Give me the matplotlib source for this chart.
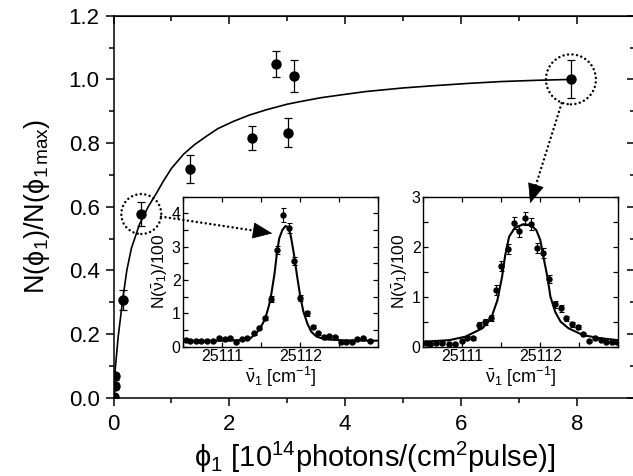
import numpy as np
import matplotlib
matplotlib.use("Agg")
import matplotlib.pyplot as plt
from matplotlib.patches import Ellipse, ConnectionPatch
from matplotlib.ticker import MultipleLocator, FixedLocator, FixedFormatter

plt.rcParams['font.family'] = ['Liberation Sans', 'DejaVu Sans']
plt.rcParams['mathtext.fontset'] = 'custom'
plt.rcParams['mathtext.rm'] = 'Liberation Sans'
plt.rcParams['mathtext.it'] = 'Liberation Sans:italic'
plt.rcParams['mathtext.bf'] = 'Liberation Sans:bold'
plt.rcParams['mathtext.sf'] = 'Liberation Sans'
plt.rcParams['mathtext.fallback'] = 'stixsans'

# ---------------- main panel data ----------------
phi = [0.00, 0.02, 0.03, 0.17, 0.48, 1.32, 2.40, 2.81, 3.02, 3.11, 7.90]
n_rel = [0.003, 0.037, 0.067, 0.307, 0.577, 0.719, 0.815, 1.049, 0.833, 1.011, 1.000]
n_err = [0.01, 0.01, 0.01, 0.03, 0.038, 0.043, 0.037, 0.04, 0.045, 0.05, 0.06]

fit_phi = [0.0, 0.03, 0.08, 0.16, 0.23, 0.31, 0.45, 0.60, 0.75, 0.86, 1.0, 1.21,
           1.40, 1.61, 1.80, 2.07, 2.35, 2.65, 3.00, 3.22, 3.57, 4.00, 4.37, 5.00,
           5.52, 6.10, 6.68, 7.30, 7.93]
fit_n = [0.0, 0.09, 0.19, 0.31, 0.40, 0.47, 0.545, 0.60, 0.645, 0.68, 0.72, 0.765,
         0.795, 0.822, 0.845, 0.868, 0.888, 0.905, 0.922, 0.930, 0.942, 0.953,
         0.962, 0.973, 0.980, 0.987, 0.993, 0.997, 1.0]

# ---------------- left inset data ----------------
nuL = [25110.53, 25110.59, 25110.66, 25110.73, 25110.81, 25110.88, 25110.96, 25111.03,
       25111.10, 25111.18, 25111.25, 25111.32, 25111.40, 25111.47, 25111.55, 25111.63,
       25111.70, 25111.78, 25111.85, 25111.92, 25112.00, 25112.08, 25112.16, 25112.23,
       25112.30, 25112.37, 25112.44, 25112.52, 25112.59, 25112.66, 25112.73, 25112.81,
       25112.89]
yL = [0.20, 0.18, 0.18, 0.17, 0.18, 0.17, 0.25, 0.23, 0.25, 0.14, 0.23, 0.27, 0.40,
      0.57, 0.85, 1.43, 2.90, 3.95, 3.55, 2.57, 1.47, 1.00, 0.60, 0.40, 0.30, 0.32,
      0.30, 0.15, 0.15, 0.15, 0.23, 0.27, 0.17]
eL = [0.03, 0.03, 0.03, 0.03, 0.03, 0.03, 0.03, 0.03, 0.03, 0.03, 0.03, 0.03, 0.04,
      0.05, 0.06, 0.09, 0.12, 0.20, 0.15, 0.12, 0.09, 0.07, 0.05, 0.04, 0.03, 0.03,
      0.03, 0.03, 0.03, 0.03, 0.03, 0.03, 0.03]
fitL_nu = [25110.50, 25111.04, 25111.26, 25111.37, 25111.45, 25111.52, 25111.56,
           25111.60, 25111.63, 25111.67, 25111.70, 25111.73, 25111.77, 25111.81,
           25111.85, 25111.88, 25111.92, 25111.96, 25112.00, 25112.04, 25112.09,
           25112.14, 25112.21, 25112.32, 25112.55, 25113.00]
fitL_y = [0.18, 0.18, 0.20, 0.27, 0.45, 0.70, 0.92, 1.25, 1.60, 2.20, 2.80, 3.25,
          3.50, 3.62, 3.58, 3.30, 2.75, 2.10, 1.50, 1.05, 0.70, 0.45, 0.30, 0.22,
          0.19, 0.18]

# ---------------- right inset data ----------------
nuR = [25110.53, 25110.59, 25110.66, 25110.74, 25110.83, 25110.91, 25110.99, 25111.06,
       25111.14, 25111.22, 25111.29, 25111.37, 25111.43, 25111.50, 25111.58, 25111.66,
       25111.73, 25111.81, 25111.88, 25111.96, 25112.03, 25112.11, 25112.19, 25112.26,
       25112.33, 25112.40, 25112.48, 25112.55, 25112.63, 25112.70, 25112.78, 25112.84,
       25112.92, 25112.98]
yR = [0.07, 0.06, 0.07, 0.08, 0.05, 0.05, 0.11, 0.18, 0.17, 0.43, 0.49, 0.58, 1.13,
      1.61, 1.95, 2.48, 2.32, 2.57, 2.45, 1.98, 1.88, 1.35, 0.85, 0.77, 0.57, 0.45,
      0.40, 0.25, 0.11, 0.17, 0.13, 0.10, 0.10, 0.10]
eR = [0.02, 0.02, 0.02, 0.02, 0.02, 0.02, 0.02, 0.03, 0.03, 0.06, 0.06, 0.06, 0.10,
      0.10, 0.10, 0.12, 0.12, 0.13, 0.12, 0.10, 0.10, 0.08, 0.07, 0.07, 0.05, 0.05,
      0.04, 0.03, 0.02, 0.02, 0.02, 0.02, 0.02, 0.02]
fitR_nu = [25110.50, 25110.83, 25111.04, 25111.26, 25111.37, 25111.45, 25111.51,
           25111.55, 25111.60, 25111.67, 25111.78, 25111.88, 25111.95, 25112.00,
           25112.04, 25112.09, 25112.13, 25112.19, 25112.26, 25112.36, 25112.55,
           25112.77, 25113.00]
fitR_y = [0.10, 0.13, 0.20, 0.37, 0.57, 0.93, 1.40, 1.83, 2.20, 2.37, 2.45, 2.43,
          2.33, 2.13, 1.80, 1.40, 1.00, 0.70, 0.50, 0.37, 0.23, 0.17, 0.13]

W, H = 633, 476
fig = plt.figure(figsize=(W / 100, H / 100), dpi=100)

# main axes
ax = fig.add_axes([113.5 / W, 1 - 397.7 / H, 521.1 / W, 382.0 / H])
ax.errorbar(phi, n_rel, yerr=n_err, fmt='o', color='k', ms=6.5, capsize=3,
            elinewidth=0.9, capthick=0.9, zorder=3)
ax.plot(fit_phi, fit_n, color='k', lw=1.2, zorder=2)
ax.set_xlim(0, 9)
ax.set_ylim(0, 1.2)
ax.xaxis.set_major_locator(MultipleLocator(2))
ax.xaxis.set_minor_locator(MultipleLocator(1))
ax.yaxis.set_major_locator(MultipleLocator(0.2))
ax.yaxis.set_minor_locator(MultipleLocator(0.1))
ax.yaxis.set_major_formatter(matplotlib.ticker.FormatStrFormatter('%.1f'))
ax.tick_params(which='both', direction='out', top=False, right=False,
               labelsize=16, width=1.1)
ax.tick_params(which='major', length=6)
ax.tick_params(which='minor', length=3.5)
ax.tick_params(axis='x', pad=6)
ax.tick_params(axis='y', pad=4)
for s in ax.spines.values():
    s.set_linewidth(1.1)
secx = ax.secondary_xaxis('top')
secx.xaxis.set_major_locator(MultipleLocator(2))
secx.xaxis.set_minor_locator(MultipleLocator(1))
secx.tick_params(which='both', direction='in', labeltop=False, width=1.1)
secx.tick_params(which='major', length=5.5)
secx.tick_params(which='minor', length=3.5)
secy = ax.secondary_yaxis('right')
secy.yaxis.set_major_locator(MultipleLocator(0.2))
secy.yaxis.set_minor_locator(MultipleLocator(0.1))
secy.tick_params(which='both', direction='in', labelright=False, width=1.1)
secy.tick_params(which='major', length=5.5)
secy.tick_params(which='minor', length=3.5)

ax.set_xlabel(r'$\mathrm{\phi_1}$ [10$^{14}$photons/(cm$^{2}$pulse)]', fontsize=21, labelpad=3)
ax.set_ylabel(r'N($\mathrm{\phi_1}$)/N($\mathrm{\phi_{1\,max}}$)', fontsize=19.5, labelpad=12)


def make_inset(left_px, ymax, nu, y, e, fnu, fy):
    ia = fig.add_axes([left_px / W, 1 - 346.7 / H, 195.0 / W, 150.0 / H])
    ia.errorbar(nu, y, yerr=e, fmt='o', color='k', ms=3.6, capsize=1.8,
                elinewidth=0.8, capthick=0.8, zorder=3)
    ia.plot(fnu, fy, color='k', lw=1.5, zorder=2)
    ia.set_xlim(25110.5, 25113.0)
    ia.set_ylim(0, ymax)
    ia.xaxis.set_major_locator(FixedLocator([25111, 25112]))
    ia.xaxis.set_major_formatter(FixedFormatter(['25111', '25112']))
    ia.xaxis.set_minor_locator(FixedLocator([25110.5, 25111.5, 25112.5, 25113.0]))
    ia.yaxis.set_major_locator(MultipleLocator(1))
    ia.yaxis.set_minor_locator(MultipleLocator(0.5))
    ia.tick_params(which='both', direction='in', top=True, right=True,
                   labelsize=11.5, width=0.9, pad=2)
    ia.tick_params(which='major', length=3.5)
    ia.tick_params(which='minor', length=3.5)
    for s in ia.spines.values():
        s.set_linewidth(1.0)
    ia.set_xlabel(r'$\mathrm{\bar{\nu}_1}$ [cm$^{-1}$]', fontsize=13, labelpad=0)
    ia.set_ylabel(r'N($\mathrm{\bar{\nu}_1}$)/100', fontsize=12.5, labelpad=1)
    return ia


axL = make_inset(183.3, 4.5, nuL, yL, eL, fitL_nu, fitL_y)
axR = make_inset(423.3, 3.0, nuR, yR, eR, fitR_nu, fitR_y)

# dotted circles around the selected points
dot_ls = (0, (0.01, 1.8))


def px_scale(a):
    p0 = a.transData.transform((0, 0))
    p1 = a.transData.transform((1, 1))
    return p1[0] - p0[0], p1[1] - p0[1]


sx, sy = px_scale(ax)
for (cx, cy, r) in [(phi[4], n_rel[4], 20), (phi[10], n_rel[10], 25)]:
    el = Ellipse((cx, cy), 2 * r / sx, 2 * r / sy, fill=False, edgecolor='k',
                 linewidth=1.8, linestyle=dot_ls, capstyle='round', clip_on=False, zorder=5)
    ax.add_patch(el)


def dotted_arrow(xyA, axA, xyB, axB):
    pA = np.array(axA.transData.transform(xyA))
    pB = np.array(axB.transData.transform(xyB))
    d = pB - pA
    u = d / np.hypot(*d)
    headlen = 18.0
    pC = pB - u * headlen
    line = ConnectionPatch(xyA=tuple(pA), coordsA='figure pixels',
                           xyB=tuple(pC + u * 4), coordsB='figure pixels',
                           linestyle=dot_ls, linewidth=1.8, capstyle='round',
                           color='k', zorder=10)
    fig.add_artist(line)
    head = ConnectionPatch(xyA=tuple(pC), coordsA='figure pixels',
                           xyB=tuple(pB), coordsB='figure pixels',
                           arrowstyle='-|>,head_length=1.0,head_width=0.42',
                           mutation_scale=13, shrinkA=0, shrinkB=0,
                           linewidth=0.5, color='k', zorder=11)
    fig.add_artist(head)


dotted_arrow((0.82, 0.569), ax, (25111.64, 3.40), axL)
dotted_arrow((7.74, 0.925), ax, (25111.87, 2.87), axR)

fig.savefig('out.png', dpi=100)
